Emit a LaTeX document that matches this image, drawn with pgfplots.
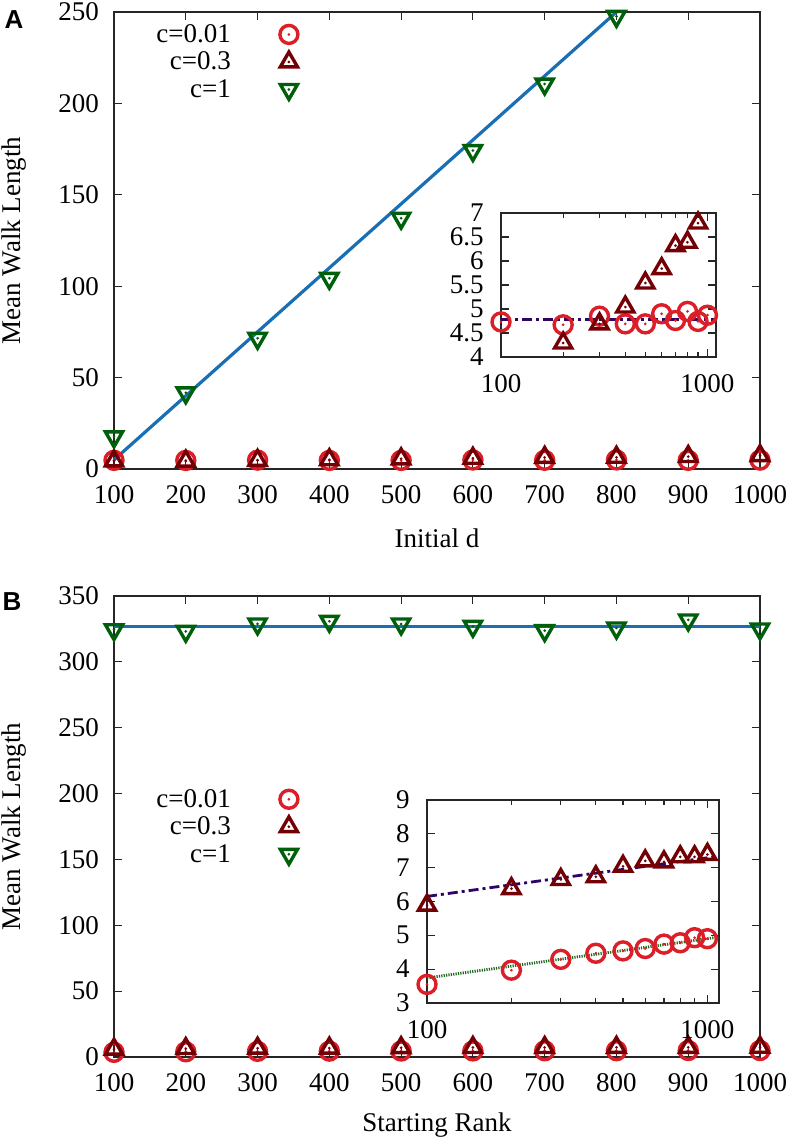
\documentclass[border=0pt]{standalone}
\usepackage{fontspec}
\setmainfont{Liberation Serif}
\newfontfamily\panelfont{Liberation Sans}
\usepackage{pgfplots}
\pgfplotsset{compat=1.18}

\definecolor{cred}{RGB}{220,30,40}
\definecolor{cmaroon}{RGB}{115,0,5}
\definecolor{cgreen}{RGB}{0,95,10}
\definecolor{cblue}{RGB}{25,110,180}
\definecolor{cpurple}{RGB}{45,5,100}
\definecolor{cdgreen}{RGB}{30,105,30}

\def\fz{\fontsize{13.5}{15}\selectfont}

\pgfdeclareplotmark{odot}{%
  \pgfpathcircle{\pgfpointorigin}{\pgfplotmarksize}\pgfusepathqstroke
  \pgfpathcircle{\pgfpointorigin}{0.75pt}\pgfusepathqfill}
\pgfdeclareplotmark{tridot}{%
  \pgfpathmoveto{\pgfqpointpolar{90}{1.1\pgfplotmarksize}}%
  \pgfpathlineto{\pgfqpointpolar{210}{1.1\pgfplotmarksize}}%
  \pgfpathlineto{\pgfqpointpolar{330}{1.1\pgfplotmarksize}}%
  \pgfpathclose\pgfusepathqstroke
  \pgfpathcircle{\pgfpointorigin}{0.75pt}\pgfusepathqfill}
\pgfdeclareplotmark{tridowndot}{%
  \pgfpathmoveto{\pgfqpointpolar{270}{1.1\pgfplotmarksize}}%
  \pgfpathlineto{\pgfqpointpolar{30}{1.1\pgfplotmarksize}}%
  \pgfpathlineto{\pgfqpointpolar{150}{1.1\pgfplotmarksize}}%
  \pgfpathclose\pgfusepathqstroke
  \pgfpathcircle{\pgfpointorigin}{0.75pt}\pgfusepathqfill}

\pgfplotsset{
  mybase/.style={scale only axis, clip=false,
    axis line style={black!85, line width=0.6pt},
    every tick/.style={black!85, line width=0.6pt},
    tick align=inside, xtick pos=both, ytick pos=both,
    /pgf/number format/assume math mode=true,
    /pgf/number format/1000 sep={},
    tick label style={font=\fz}, label style={font=\fz}},
  mymain/.style={mybase, width=323pt, xmin=100, xmax=1000,
    xtick={100,200,...,1000}, major tick length=4pt,
    xticklabel style={yshift=-4.5pt}, yticklabel style={xshift=-4pt},
    ylabel={Mean Walk Length},
    ylabel style={at={(axis description cs:-0.155,0.5)}, anchor=center},
    legend plot pos=right, legend cell align=right,
    legend style={draw=none, fill=none, font=\fz, inner sep=0pt,
      row sep=1.75pt, nodes={inner sep=1pt, text height=9pt, text depth=1pt}}},
  myinset/.style={mybase, xmin=100, xmax=1100, xtick={100,1000},
    xticklabels={100,1000}, major tick length=4pt, minor tick length=2.5pt,
    axis background/.style={fill=white},
    xticklabel style={yshift=-5pt},
    yticklabel style={inner xsep=0pt, inner ysep=0pt, text height=8.6pt, text depth=0pt, xshift=-8.5pt}},
  myleg/.style={legend image code/.code={\path[draw=none,fill=none] (0pt,-5pt) rectangle (32pt,5pt); \draw[##1] plot coordinates {(28pt,0pt)};}},
  sA/.style={only marks, mark=odot, mark size=4.5pt, line width=1.7pt, color=cred, myleg},
  sB/.style={only marks, mark=tridot, mark size=4.5pt, line width=1.7pt, color=cmaroon, myleg},
  sC/.style={only marks, mark=tridowndot, mark size=4.5pt, line width=1.7pt, color=cgreen, myleg},
}

\begin{document}
\begin{tikzpicture}
\path[use as bounding box] (0pt,0pt) rectangle (396.5pt,571.5pt);

% ---------------- Panel A ----------------
\begin{axis}[mymain, at={(57pt,337pt)}, anchor=south west, height=228.5pt,
  ymin=0, ymax=250, ytick={0,50,...,250},
  xlabel={Initial d},
  xlabel style={at={(axis description cs:0.5,-0.151)}, anchor=center},
  legend style={at={(axis description cs:0.062,0.978)}, anchor=north west}]
\addplot[cblue, line width=1.6pt, forget plot] coordinates {(100,5) (800,250)};
\addplot[sA] coordinates {(100,4.73) (200,4.67) (300,4.85) (400,4.69) (500,4.69) (600,4.90) (700,4.76) (800,4.95) (900,4.74) (1000,4.87)};
\addplot[sB] coordinates {(100,4.4) (200,4.29) (300,4.69) (400,5.04) (500,5.54) (600,5.84) (700,6.32) (800,6.39) (900,6.79) (1000,7.3)};
\addplot[sC] coordinates {(100,17.6) (200,41.7) (300,71.5) (400,104.3) (500,137.2) (600,174.2) (700,210.6) (800,247.6)};
\legend{c=0.01, c=0.3, c=1}
\end{axis}

\begin{axis}[xmode=log, myinset, at={(250.5pt,393pt)}, anchor=south west, width=107.5pt, height=72pt,
  ymin=4, ymax=7, ytick={4,4.5,...,7}]
\addplot[cpurple, line width=1.4pt, dash pattern=on 5pt off 2pt on 1.5pt off 2pt] coordinates {(100,4.78) (1100,4.78)};
\addplot[sA] coordinates {(100,4.73) (200,4.67) (300,4.85) (400,4.69) (500,4.69) (600,4.90) (700,4.76) (800,4.95) (900,4.74) (1000,4.87)};
\addplot[sB] coordinates {(200,4.29) (300,4.69) (400,5.04) (500,5.54) (600,5.84) (700,6.32) (800,6.39) (900,6.79)};
\end{axis}

% ---------------- Panel B ----------------
\begin{axis}[mymain, at={(57pt,43pt)}, anchor=south west, height=230.5pt,
  ymin=0, ymax=350, ytick={0,50,...,350},
  xlabel={Starting Rank},
  xlabel style={at={(axis description cs:0.5,-0.148)}, anchor=center},
  legend style={at={(axis description cs:0.062,0.586)}, anchor=north west}]
\addplot[cblue, line width=1.6pt, forget plot] coordinates {(100,327) (1000,327)};
\addplot[sA] coordinates {(100,3.55) (200,3.97) (300,4.29) (400,4.47) (500,4.54) (600,4.61) (700,4.74) (800,4.78) (900,4.93) (1000,4.90)};
\addplot[sB] coordinates {(100,5.89) (200,6.38) (300,6.65) (400,6.73) (500,7.04) (600,7.20) (700,7.17) (800,7.32) (900,7.32) (1000,7.39)};
\addplot[sC] coordinates {(100,324.4) (200,323.2) (300,328.8) (400,330.8) (500,328.8) (600,327.0) (700,323.7) (800,325.7) (900,331.8) (1000,325.0)};
\legend{c=0.01, c=0.3, c=1}
\end{axis}

\begin{axis}[xmode=log, myinset, at={(213.5pt,70pt)}, anchor=south west, width=146pt, height=101.5pt,
  ymin=3, ymax=9, ytick={3,4,...,9}]
\addplot[cpurple, line width=1.4pt, dash pattern=on 5pt off 2pt on 1.5pt off 2pt] coordinates {(100,6.15) (1100,7.34)};
\addplot[cdgreen, line width=1.4pt, dash pattern=on 0.6pt off 0.6pt] coordinates {(100,3.74) (1100,4.95)};
\addplot[sA] coordinates {(100,3.55) (200,3.97) (300,4.29) (400,4.47) (500,4.54) (600,4.61) (700,4.74) (800,4.78) (900,4.93) (1000,4.90)};
\addplot[sB] coordinates {(100,5.89) (200,6.38) (300,6.65) (400,6.73) (500,7.04) (600,7.20) (700,7.17) (800,7.32) (900,7.32) (1000,7.39)};
\end{axis}

\node[font=\panelfont\bfseries\fontsize{13}{15}\selectfont] at (7pt,561.5pt) {A};
\node[font=\panelfont\bfseries\fontsize{13}{15}\selectfont] at (6pt,270.5pt) {B};
\end{tikzpicture}
\end{document}
